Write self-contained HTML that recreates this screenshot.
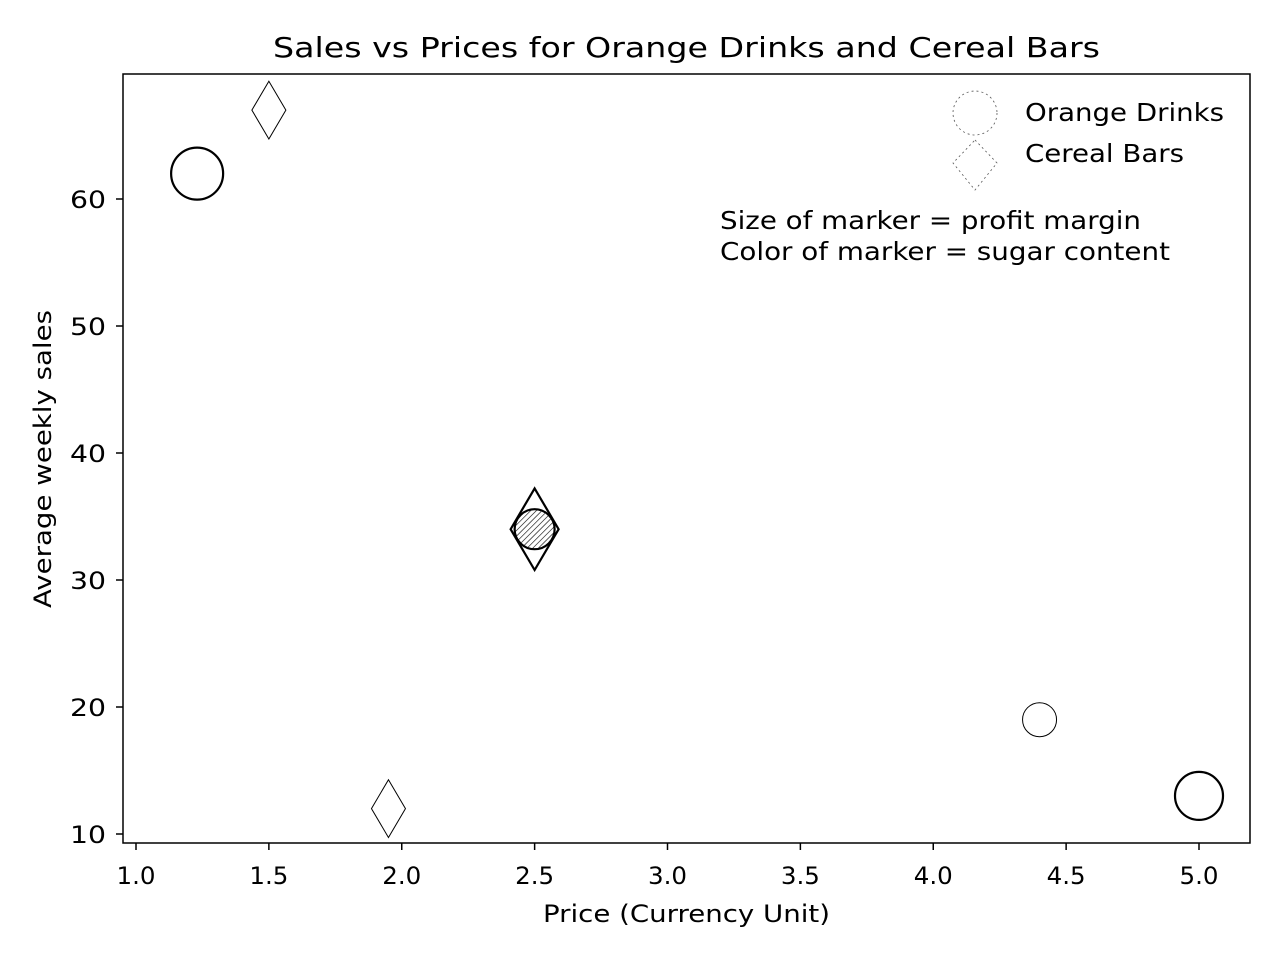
<!DOCTYPE html>
<html><head><meta charset="utf-8"><style>
body{margin:0;background:#fff;}
svg text{font-family:"DejaVu Sans","Liberation Sans",sans-serif;fill:#000;}
</style></head><body>
<svg width="1280" height="960" xmlns="http://www.w3.org/2000/svg">
<defs>
<pattern id="hatch" width="4" height="4" patternUnits="userSpaceOnUse" patternTransform="rotate(45)">
<line x1="0" y1="0" x2="0" y2="4" stroke="#000" stroke-width="1.2"/>
</pattern>
</defs>
<text x="273" y="57" font-size="28" textLength="827" lengthAdjust="spacingAndGlyphs">Sales vs Prices for Orange Drinks and Cereal Bars</text>
<rect x="123" y="74" width="1127" height="769" fill="none" stroke="#000" stroke-width="1.5"/>
<g id="xt"></g>
<g id="yt"></g>
<text x="543" y="922" font-size="24" textLength="287" lengthAdjust="spacingAndGlyphs">Price (Currency Unit)</text>
<text transform="translate(51,608) rotate(-90)" font-size="24" textLength="298" lengthAdjust="spacingAndGlyphs">Average weekly sales</text>
<g id="marks"></g>
<g>
<circle cx="975" cy="113" r="22" fill="none" stroke="#555" stroke-width="0.8" stroke-dasharray="2,3"/>
<path d="M975,140 L997,163 L975,190 L953,163 Z" fill="none" stroke="#555" stroke-width="0.8" stroke-dasharray="2,3"/>
<text x="1025" y="121" font-size="25" textLength="199" lengthAdjust="spacingAndGlyphs">Orange Drinks</text>
<text x="1025" y="162" font-size="25" textLength="159" lengthAdjust="spacingAndGlyphs">Cereal Bars</text>
</g>
<text x="720" y="229" font-size="25" textLength="421" lengthAdjust="spacingAndGlyphs">Size of marker = profit margin</text>
<text x="720" y="260" font-size="25" textLength="450" lengthAdjust="spacingAndGlyphs">Color of marker = sugar content</text>
</svg>
<script>
const xTicks=[1.0,1.5,2.0,2.5,3.0,3.5,4.0,4.5,5.0];
const yTicks=[10,20,30,40,50,60];
const orangePrice=[1.23,2.5,4.4,5.0];
const orangeSales=[62,34,19,13];
const orangeSize=[26,20,17,24];
const cerealPrice=[1.5,1.95,2.5];
const cerealSales=[67,12,34];
const cerealSize=[17,17,24];
function X(v){return 136+(v-1)*265.75;}
function Y(v){return 834-(v-10)*12.7;}
const NS="http://www.w3.org/2000/svg";
function mk(t,a,p){const e=document.createElementNS(NS,t);for(const k in a)e.setAttribute(k,a[k]);p.appendChild(e);return e;}
const xt=document.getElementById('xt'),yt=document.getElementById('yt'),m=document.getElementById('marks');
xTicks.forEach(v=>{
 const l=mk('line',{x1:X(v),x2:X(v),y1:843,y2:850,stroke:'#000','stroke-width':1.5},xt);
 
 
 const t=mk('text',{x:X(v)-19.5,y:884,'font-size':24,textLength:39,lengthAdjust:'spacingAndGlyphs'},xt);t.textContent=v.toFixed(1);
 
 
});
yTicks.forEach(v=>{
 const l=mk('line',{x1:116,x2:123,y1:Y(v),y2:Y(v),stroke:'#000','stroke-width':1.5},yt);
 
 
 const t=mk('text',{x:70,y:Y(v)+9,'font-size':24,textLength:36,lengthAdjust:'spacingAndGlyphs'},yt);t.textContent=v;
 
 
});
cerealPrice.forEach((p,i)=>{
 const cx=X(p),cy=Y(cerealSales[i]),w=cerealSize[i],h=cerealSize[i]*1.7;
 const d=mk('path',{d:`M${cx},${cy-h} L${cx+w},${cy} L${cx},${cy+h} L${cx-w},${cy} Z`,fill:'none',stroke:'#000','stroke-width':i==2?2.2:1},m);
 
 
});
orangePrice.forEach((p,i)=>{
 const c=mk('circle',{cx:X(p),cy:Y(orangeSales[i]),r:orangeSize[i],fill:i==1?'url(#hatch)':'none',stroke:'#000','stroke-width':i==2?1:2.2},m);
 
 
});
</script>
</body></html>
